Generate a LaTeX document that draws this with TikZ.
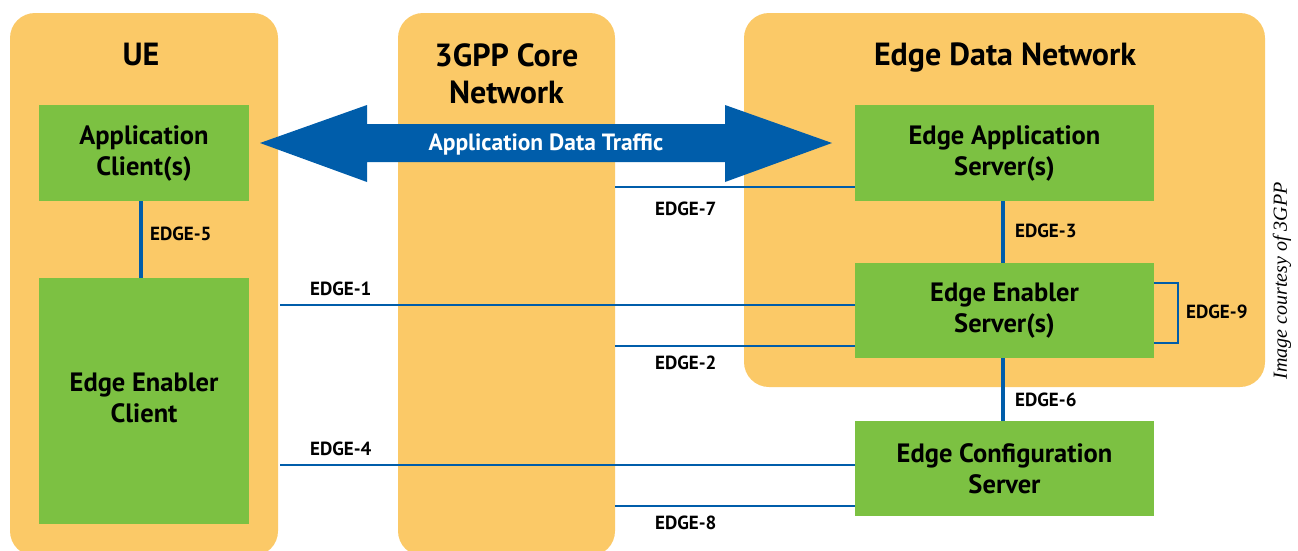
\documentclass[tikz,border=0pt]{standalone}
\usepackage{fontspec}
\setmainfont{PT Sans}
\newfontfamily\courtesyfont{Liberation Serif}
\definecolor{contorange}{HTML}{FBC967}
\definecolor{boxgreen}{HTML}{7CC142}
\definecolor{linkblue}{HTML}{005DAA}
\tikzset{
  cont/.style={fill=contorange, draw=none, rounded corners=25pt, inner sep=0pt},
  fbox/.style={fill=boxgreen, draw=none, inner sep=0pt, align=center,
    font=\fontsize{26.5}{31}\selectfont\bfseries},
  title/.style={align=center, font=\fontsize{32}{37}\selectfont\bfseries},
  link/.style={draw=linkblue, line width=2.6pt},
  vlink/.style={draw=linkblue, line width=4pt},
  lbl/.style={anchor=west, inner sep=0pt, font=\fontsize{19}{21}\selectfont\bfseries},
}
\begin{document}
\begin{tikzpicture}[x=1pt,y=-1pt]
\useasboundingbox (0,0) rectangle (1298,550);
\clip (0,0) rectangle (1298,550);
% containers
\node[cont, minimum width=268pt, minimum height=543pt] (ue) at (144,284.5) {};
\node[cont, minimum width=217pt, minimum height=543pt] (core) at (506.5,284.5) {};
\node[cont, minimum width=521pt, minimum height=374pt] (edn) at (1004.5,200) {};
\node[title, anchor=base] (uet) at (141,65) {UE};
\node[title] (coret) at (506.5,73.5) {3GPP Core\\Network};
\node[title, anchor=base] (ednt) at (1005,65) {Edge Data Network};
% functional boxes
\node[fbox, minimum width=210pt, minimum height=96pt] (ac) at (144,153) {Application\\Client(s)};
\node[fbox, minimum width=210pt, minimum height=246pt] (eec) at (144,401) {};
\node[align=center, inner sep=0pt, font=\fontsize{26.5}{31}\selectfont\bfseries] (eect) at (144,397.5) {Edge Enabler\\Client};
\node[fbox, minimum width=299pt, minimum height=96pt] (eas) at (1004.5,153) {Edge Application\\Server(s)};
\node[fbox, minimum width=299pt, minimum height=95pt] (ees) at (1004.5,310.5) {Edge Enabler\\Server(s)};
\node[fbox, minimum width=299pt, minimum height=95pt] (ecs) at (1004.5,468.5) {Edge Configuration\\Server};
% application data traffic arrow
\fill[linkblue] (260,143) -- (367,105) -- (367,124) -- (725,124) -- (725,105) -- (832,143)
  -- (725,182) -- (725,162) -- (367,162) -- (367,182) -- cycle;
\node[text=white, font=\fontsize{23.5}{26}\selectfont\bfseries, anchor=base] (adt) at (546,150) {Application Data Traffic};
% reference points
\coordinate (y1) at (0,305);
\coordinate (y2) at (0,346);
\coordinate (y4) at (0,465);
\coordinate (y7) at (0,187);
\coordinate (y8) at (0,506);
\coordinate (y9a) at (0,283);
\coordinate (y9b) at (0,343);
\draw[vlink] (ac.south -| 141,0) -- (eec.north -| 141,0);
\draw[vlink] (eas.south -| 1003,0) -- (ees.north -| 1003,0);
\draw[vlink] (ees.south -| 1003,0) -- (ecs.north -| 1003,0);
\draw[link] (core.east |- y7) -- (eas.west |- y7);
\draw[link] (ue.east |- y1) ++(2,0) -- (ees.west |- y1);
\draw[link] (core.east |- y2) -- (ees.west |- y2);
\draw[link] (ue.east |- y4) ++(2,0) -- (ecs.west |- y4);
\draw[link] (core.east |- y8) -- (ecs.west |- y8);
\draw[link, line width=2.2pt] (ees.east |- y9a) -- ++(24,0) |- (ees.east |- y9b);
% labels
\node[lbl] (l5) at (150,234) {EDGE-5};
\node[lbl] (l7) at (655,209) {EDGE-7};
\node[lbl] (l3) at (1015,231) {EDGE-3};
\node[lbl] (l1) at (310,289) {EDGE-1};
\node[lbl] (l2) at (655,363) {EDGE-2};
\node[lbl] (l9) at (1186,312) {EDGE-9};
\node[lbl] (l6) at (1015,400) {EDGE-6};
\node[lbl] (l4) at (310,449) {EDGE-4};
\node[lbl] (l8) at (655,523) {EDGE-8};
% courtesy
\node[rotate=90, font=\fontsize{20}{22}\selectfont\courtesyfont\itshape] (court) at (1282,281) {Image courtesy of 3GPP};
\end{tikzpicture}
\end{document}
